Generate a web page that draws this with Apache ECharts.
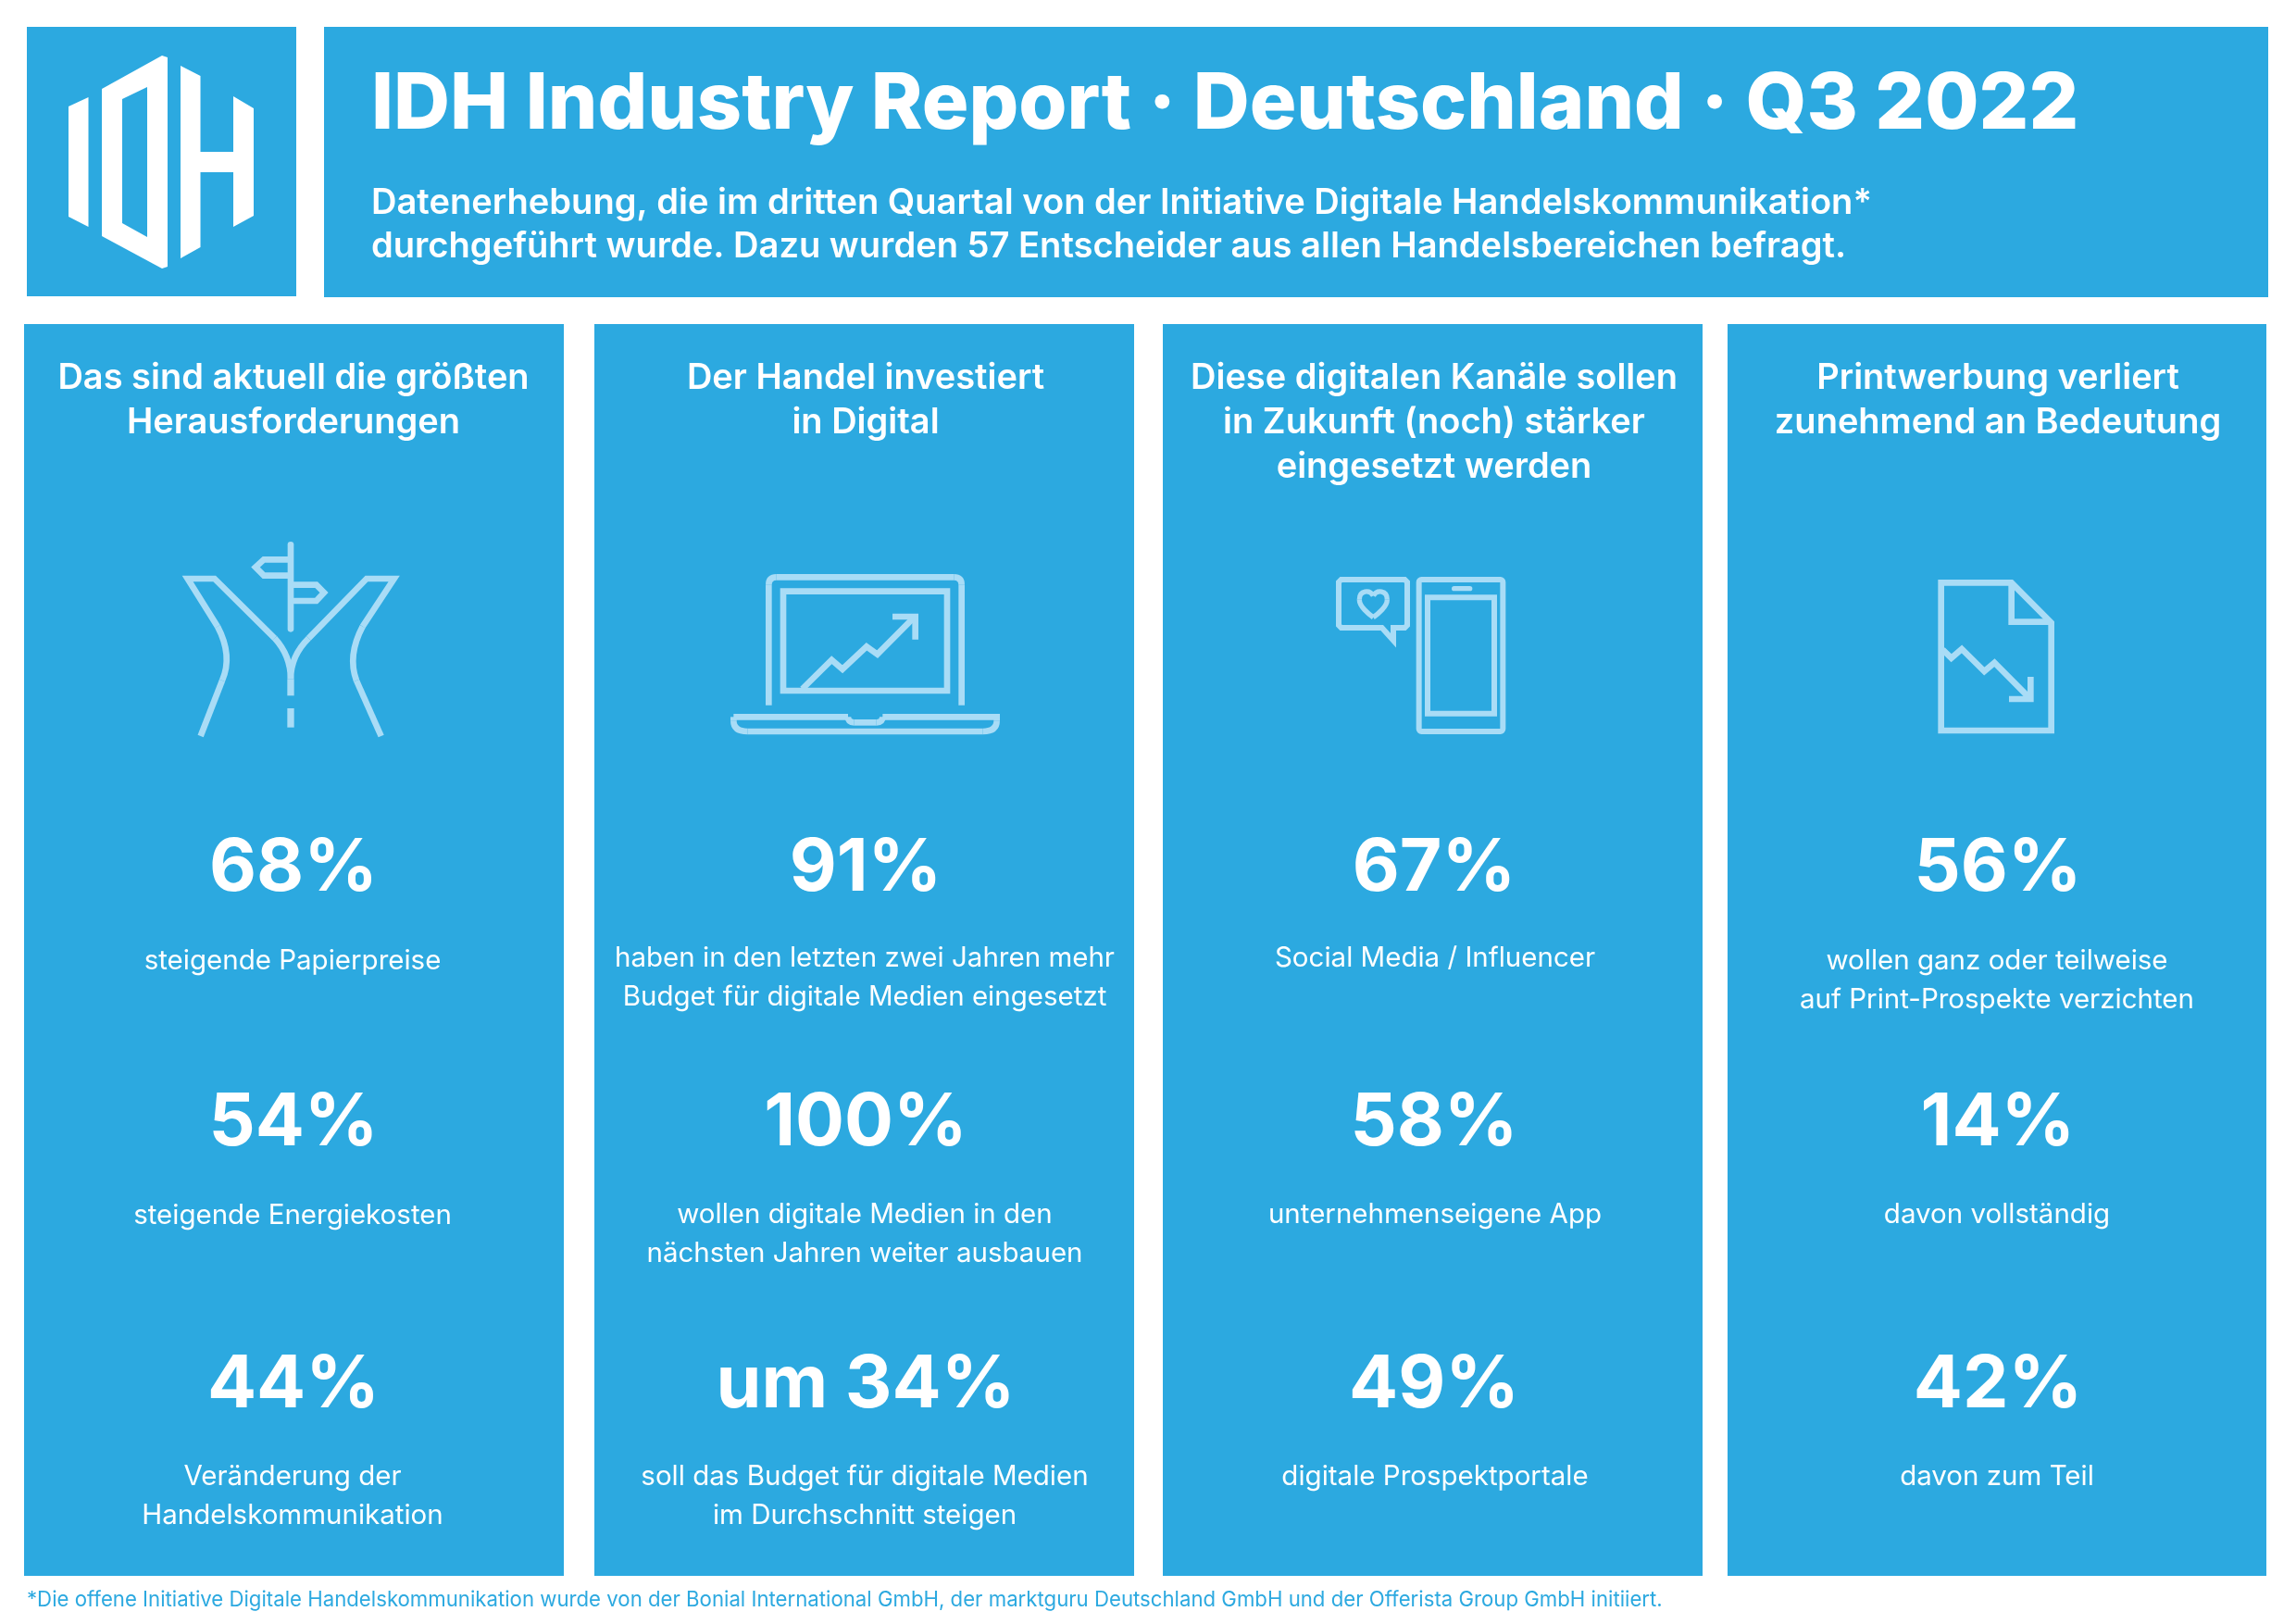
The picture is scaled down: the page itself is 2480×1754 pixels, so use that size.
<!DOCTYPE html>
<html>
<head>
<meta charset="utf-8">
<style>
  html, body { margin: 0; background: #fff; }
  #chart { width: 2480px; height: 1754px; }
</style>
<script src="https://cdn.jsdelivr.net/npm/echarts@6/dist/echarts.min.js"></script>
</head>
<body>
<div id="chart"></div>
<script>
// text and values
var headline = 'IDH Industry Report · Deutschland · Q3 2022'
var intro = [
  'Datenerhebung, die im dritten Quartal von der Initiative Digitale Handelskommunikation*',
  'durchgeführt wurde. Dazu wurden 57 Entscheider aus allen Handelsbereichen befragt.'
]
var columnTitles = [
  ['Das sind aktuell die größten', 'Herausforderungen'],
  ['Der Handel investiert', 'in Digital'],
  ['Diese digitalen Kanäle sollen', 'in Zukunft (noch) stärker', 'eingesetzt werden'],
  ['Printwerbung verliert', 'zunehmend an Bedeutung']
]
var bigValues = [
  ['68%', '54%', '44%'],
  ['91%', '100%', 'um 34%'],
  ['67%', '58%', '49%'],
  ['56%', '14%', '42%']
]
var captions = [
  [['steigende Papierpreise'], ['steigende Energiekosten'], ['Veränderung der', 'Handelskommunikation']],
  [['haben in den letzten zwei Jahren mehr', 'Budget für digitale Medien eingesetzt'], ['wollen digitale Medien in den', 'nächsten Jahren weiter ausbauen'], ['soll das Budget für digitale Medien', 'im Durchschnitt steigen']],
  [['Social Media / Influencer'], ['unternehmenseigene App'], ['digitale Prospektportale']],
  [['wollen ganz oder teilweise', 'auf Print-Prospekte verzichten'], ['davon vollständig'], ['davon zum Teil']]
]
var footnote = '*Die offene Initiative Digitale Handelskommunikation wurde von der Bonial International GmbH, der marktguru Deutschland GmbH und der Offerista Group GmbH initiiert.'

// layout
var BLUE = '#2ca9e0'
var ICON = '#a9dcf6'
var FONT = 'Inter'
var columnLeft = [26, 642, 1256, 1866]
var columnRight = [609, 1225, 1839, 2448]
var columnCenter = [316, 934, 1548, 2157]
var captionCenter = [316, 934, 1550, 2157]
var bigY = [938, 1213, 1496]
var captionY = [[1038, 1313, 1595], [1035, 1312, 1595], [1035, 1312, 1595], [1038, 1312, 1595]]

function label(text, x, y, size, weight, align, fill) {
  return {
    type: 'text',
    style: {
      text: text, x: x, y: y, fill: fill || '#fff',
      fontFamily: FONT, fontSize: size, fontWeight: weight,
      align: align, verticalAlign: 'middle'
    }
  }
}

function box(x0, y0, x1, y1) {
  return { type: 'rect', shape: { x: x0, y: y0, width: x1 - x0, height: y1 - y0 }, style: { fill: BLUE } }
}

// icon pieces, in 3x coordinates, the group scales them down
function line(points, width, closed, cap) {
  return {
    type: closed ? 'polygon' : 'polyline',
    shape: { points: points },
    style: { fill: null, stroke: ICON, lineWidth: width, lineCap: cap || 'butt', lineJoin: 'miter' }
  }
}

function curve(p, width) {
  var shape = { x1: p[0], y1: p[1], cpx1: p[2], cpy1: p[3] }
  if (p.length === 8) {
    shape.cpx2 = p[4]; shape.cpy2 = p[5]; shape.x2 = p[6]; shape.y2 = p[7]
  } else {
    shape.x2 = p[4]; shape.y2 = p[5]
  }
  return { type: 'bezierCurve', shape: shape, style: { fill: null, stroke: ICON, lineWidth: width } }
}

function icon(x, y, children) {
  return { type: 'group', x: x, y: y, scaleX: 1 / 3, scaleY: 1 / 3, children: children }
}

var roadIcon = icon(150, 560, [
  line([[200, 705], [270, 525]], 20),
  curve([270, 525, 305, 445, 255, 350], 20),
  line([[255, 350], [158, 195], [245, 195], [440, 388]], 20),
  curve([440, 388, 492, 445, 492, 520], 20),
  line([[492, 520], [492, 574]], 22),
  line([[492, 615], [492, 677]], 22),
  line([[785, 705], [705, 525]], 20),
  curve([705, 525, 675, 445, 725, 350], 20),
  line([[725, 350], [827, 195], [738, 195], [550, 388]], 20),
  curve([550, 388, 492, 445, 492, 520], 20),
  line([[492, 85], [492, 358]], 20, false, 'round'),
  line([[492, 133], [405, 133], [378, 158], [405, 185], [492, 185]], 20),
  line([[492, 215], [575, 215], [600, 240], [575, 267], [492, 267]], 20)
])

var laptopIcon = icon(760, 590, [
  line([[211, 515], [211, 125]], 20),
  curve([211, 125, 211, 100, 236, 100], 20),
  line([[236, 100], [811, 100]], 20),
  curve([811, 100, 836, 100, 836, 125], 20),
  line([[836, 125], [836, 515]], 20),
  line([[258, 146], [789, 146], [789, 468], [258, 468]], 20, true),
  line([[320, 462], [415, 368], [450, 398], [528, 325], [563, 350], [680, 232]], 20),
  line([[612, 228], [686, 228], [686, 302]], 20),
  line([[97, 553], [468, 553]], 20),
  curve([468, 553, 468, 571, 488, 571], 20),
  line([[488, 571], [560, 571]], 20),
  curve([560, 571, 580, 571, 580, 553], 20),
  line([[580, 553], [950, 553], [950, 565]], 20),
  curve([950, 565, 950, 600, 905, 600], 20),
  line([[905, 600], [142, 600]], 20),
  curve([142, 600, 97, 600, 97, 565], 20),
  line([[97, 565], [97, 553]], 20)
])

var phoneIcon = icon(1420, 600, [
  { type: 'rect', shape: { x: 338, y: 78, width: 272, height: 492, r: 8 }, style: { fill: null, stroke: ICON, lineWidth: 18 } },
  { type: 'rect', shape: { x: 366, y: 136, width: 216, height: 376 }, style: { fill: null, stroke: ICON, lineWidth: 18 } },
  line([[452, 107], [503, 107]], 16, false, 'round'),
  line([[218, 234], [86, 234], [78, 226], [78, 86], [86, 78], [292, 78], [300, 86], [300, 226], [292, 234], [255, 234], [255, 275]], 18, true),
  curve([190, 130, 178, 110, 145, 112, 145, 143], 16),
  curve([145, 143, 145, 165, 175, 190, 190, 200], 16),
  curve([190, 130, 202, 110, 235, 112, 235, 143], 16),
  curve([235, 143, 235, 165, 205, 190, 190, 200], 16)
])

var docIcon = icon(2060, 600, [
  line([[110, 88], [338, 88], [467, 218], [467, 567], [110, 567]], 20, true),
  line([[338, 88], [338, 215], [467, 215]], 20),
  line([[115, 305], [143, 332], [177, 303], [250, 375], [283, 347], [395, 460]], 20),
  line([[400, 393], [400, 465], [330, 465]], 20)
])

var logo = [
  [[74, 115], [95.5, 105], [95.5, 245], [74, 234]],
  [[195, 71], [216.5, 82], [216.5, 164], [252, 164], [252, 104], [274, 117], [274, 233], [252, 245], [252, 186], [216.5, 186], [216.5, 267], [195, 279]]
].map(function (points) {
  return { type: 'polygon', shape: { points: points }, style: { fill: '#fff' } }
})
// the D with its hole: white outline, blue counter on top
logo.push({ type: 'polygon', shape: { points: [[110, 96], [175, 60], [181, 62], [181, 288], [175, 290], [110, 255]] }, style: { fill: '#fff' } })
logo.push({ type: 'polygon', shape: { points: [[132, 107], [159, 94], [159, 256], [132, 241]] }, style: { fill: BLUE } })

var elements = [box(29, 29, 320, 320), box(350, 29, 2450, 321)].concat(logo)
elements.push(label(headline, 401, 114, 84.4, 800, 'left'))
intro.forEach(function (text, i) {
  elements.push(label(text, 401, 220 + i * 47, 38.1, 600, 'left'))
})

columnTitles.forEach(function (lines, c) {
  elements.push(box(columnLeft[c], 350, columnRight[c], 1702))
  lines.forEach(function (text, i) {
    elements.push(label(text, columnCenter[c] + 1, 409 + i * 48, 38, 600, 'center'))
  })
  bigValues[c].forEach(function (text, r) {
    elements.push(label(text, columnCenter[c] + 1, bigY[r], 78.6, 700, 'center'))
    captions[c][r].forEach(function (cap, i) {
      elements.push(label(cap, captionCenter[c], captionY[c][r] + i * 42, 29.5, 400, 'center'))
    })
  })
})

elements.push(roadIcon, laptopIcon, phoneIcon, docIcon)
elements.push(label(footnote, 29, 1728, 22.2, 400, 'left', BLUE))

var myChart = echarts.init(document.getElementById('chart'))
myChart.setOption({
  backgroundColor: '#fff',
  animation: false,
  graphic: { elements: elements }
})
</script>
</body>
</html>
